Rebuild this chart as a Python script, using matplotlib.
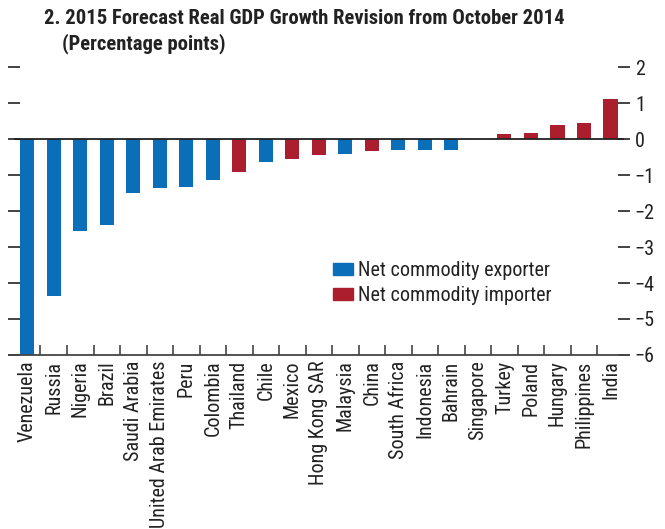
import numpy as np
import matplotlib
matplotlib.use("Agg")
import matplotlib.pyplot as plt
from matplotlib.patches import Patch
from matplotlib.ticker import FixedLocator

plt.rcParams['font.family'] = ['Roboto Condensed', 'Liberation Sans', 'DejaVu Sans']

# 2015 forecast revision vs October 2014 WEO, percentage points
countries = ['Venezuela', 'Russia', 'Nigeria', 'Brazil', 'Saudi Arabia',
             'United Arab Emirates', 'Peru', 'Colombia', 'Thailand', 'Chile',
             'Mexico', 'Hong Kong SAR', 'Malaysia', 'China', 'South Africa',
             'Indonesia', 'Bahrain', 'Singapore', 'Turkey', 'Poland',
             'Hungary', 'Philippines', 'India']
revision = [-6.0, -4.35, -2.55, -2.4, -1.5, -1.35, -1.32, -1.13, -0.91, -0.63,
            -0.55, -0.44, -0.41, -0.32, -0.30, -0.30, -0.30, 0.0, 0.14, 0.18,
            0.39, 0.45, 1.11]
# 'E' = net commodity exporter, 'I' = net commodity importer
group = ['E', 'E', 'E', 'E', 'E', 'E', 'E', 'E', 'I', 'E',
         'I', 'I', 'E', 'I', 'E', 'E', 'E', 'I', 'I', 'I',
         'I', 'I', 'I']
yticks = [2, 1, 0, -1, -2, -3, -4, -5, -6]

blue = '#0a6fb8'
red = '#ab1e2e'
colors = [blue if g == 'E' else red for g in group]

fig = plt.figure(figsize=(6.65, 5.29), dpi=100)
ax = fig.add_axes([0.021, 0.329, 0.917, 0.544])

x = np.arange(len(countries))
ax.bar(x, revision, width=0.53, color=colors, zorder=2)
ax.axhline(0, color='#222222', lw=1.3, zorder=3)

ax.set_xlim(-0.5, len(countries) - 0.5)
ax.set_ylim(-6, 2)

for s in ['top', 'left', 'right']:
    ax.spines[s].set_visible(False)
ax.spines['bottom'].set_color('#444444')
ax.spines['bottom'].set_linewidth(1.3)

ax.set_xticks(x)
ax.set_xticklabels(countries, rotation=90, fontsize=14.5, color='#222222')
ax.xaxis.set_minor_locator(FixedLocator(x[:-1] + 0.5))
ax.tick_params(axis='x', which='major', length=0, pad=4)
ax.tick_params(axis='x', which='minor', direction='in', length=7,
               width=1.2, color='#444444')

ax.set_yticks(yticks)
ax.set_yticklabels([str(v).replace('-', '\u2212') for v in yticks])
ax.tick_params(axis='y', which='both', left=True, right=True,
               labelleft=False, labelright=True, direction='inout',
               length=8, width=1.2, color='#222222', labelsize=14.5,
               labelcolor='#222222', pad=4)

handles = [Patch(color=blue), Patch(color=red)]
ax.legend(handles, ['Net commodity exporter', 'Net commodity importer'],
          loc='upper left', bbox_to_anchor=(0.523, 0.325), frameon=False,
          fontsize=14.5, handlelength=1.0, handleheight=0.55,
          handletextpad=0.25, labelspacing=0.3, borderpad=0,
          borderaxespad=0, labelcolor='#222222')

fig.text(0.066, 0.965, '2. 2015 Forecast Real GDP Growth Revision from October 2014',
         fontsize=14.9, fontweight='bold', va='center', color='#222222')
fig.text(0.093, 0.917, '(Percentage points)',
         fontsize=14.9, fontweight='bold', va='center', color='#222222')

fig.savefig('out.png', dpi=100)
